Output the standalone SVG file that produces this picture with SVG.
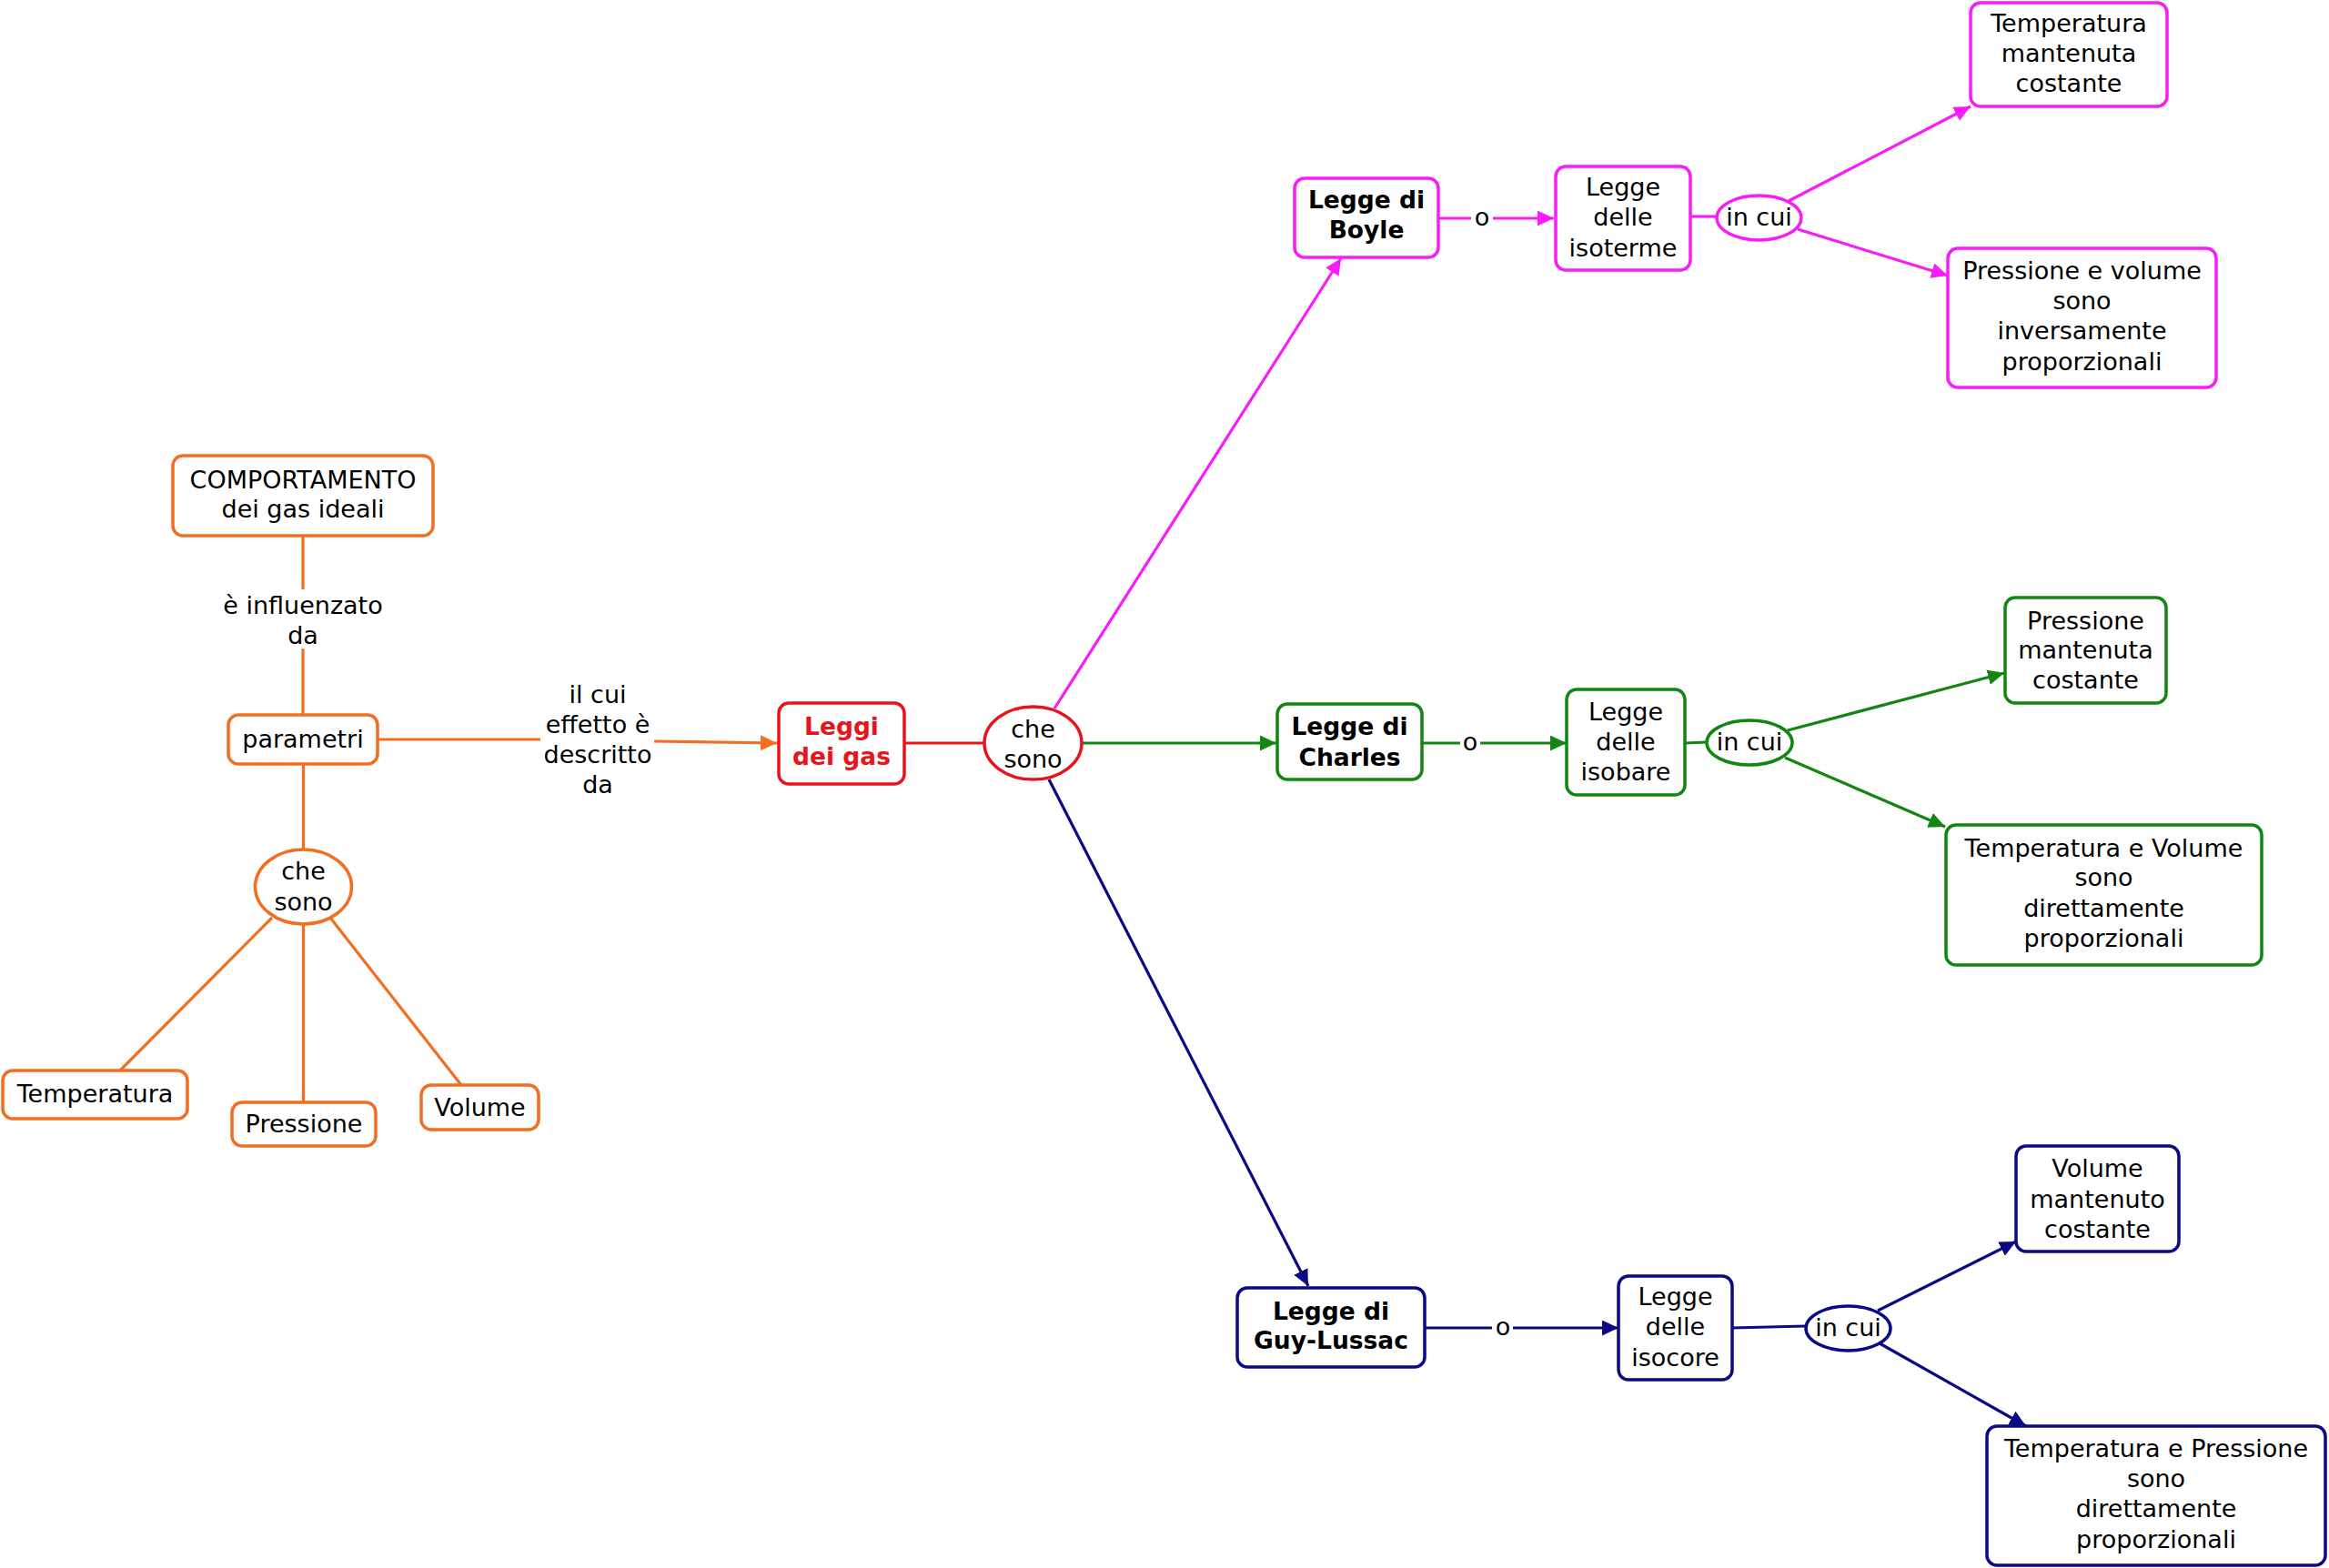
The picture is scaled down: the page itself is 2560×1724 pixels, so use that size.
<svg xmlns="http://www.w3.org/2000/svg" width="2560" height="1724" viewBox="0 0 2560 1724">
<style>
.t{font-family:"DejaVu Sans",Verdana,sans-serif;font-size:27px;fill:#000;text-anchor:middle}
.b{font-family:"DejaVu Sans",Verdana,sans-serif;font-size:26.5px;font-weight:bold;fill:#000;text-anchor:middle}
.n{fill:#fff;stroke-width:3.5}
.c{fill:none;stroke-width:3.2}
.or{stroke:#f26e21}.rd{stroke:#e8141b}.mg{stroke:#f81cf8}.gr{stroke:#128512}.nv{stroke:#0a0a84}
</style>
<defs>
<marker id="aOr" markerUnits="userSpaceOnUse" markerWidth="20" markerHeight="20" refX="18" refY="8.5" orient="auto"><path d="M0,0 L18,8.5 L0,17 z" fill="#f26e21"/></marker>
<marker id="aMg" markerUnits="userSpaceOnUse" markerWidth="20" markerHeight="20" refX="18" refY="8.5" orient="auto"><path d="M0,0 L18,8.5 L0,17 z" fill="#f81cf8"/></marker>
<marker id="aGr" markerUnits="userSpaceOnUse" markerWidth="20" markerHeight="20" refX="18" refY="8.5" orient="auto"><path d="M0,0 L18,8.5 L0,17 z" fill="#128512"/></marker>
<marker id="aNv" markerUnits="userSpaceOnUse" markerWidth="20" markerHeight="20" refX="18" refY="8.5" orient="auto"><path d="M0,0 L18,8.5 L0,17 z" fill="#0a0a84"/></marker>
</defs>
<rect width="2560" height="1724" fill="#fff"/>
<g id="connectors">
<path class="c or" d="M333,589 L333,648"/>
<path class="c or" d="M333,713 L333,786"/>
<path class="c or" d="M415,813 L594,813"/>
<path class="c or" d="M719,815 L854,817" marker-end="url(#aOr)"/>
<path class="c or" d="M333.5,840 L333.5,934"/>
<path class="c or" d="M299,1009 L132,1177"/>
<path class="c or" d="M333.5,1016 L333.5,1212"/>
<path class="c or" d="M363,1009 L507,1193"/>
<path class="c rd" d="M994,817 L1082,817"/>
<path class="c mg" d="M1159,779 L1474,284" marker-end="url(#aMg)"/>
<path class="c mg" d="M1581,240 L1617,240"/>
<path class="c mg" d="M1641,240 L1708,240" marker-end="url(#aMg)"/>
<path class="c mg" d="M1858,238 L1887,238"/>
<path class="c mg" d="M1966,221 L2166,117" marker-end="url(#aMg)"/>
<path class="c mg" d="M1976,252 L2141,303" marker-end="url(#aMg)"/>
<path class="c gr" d="M1189,817 L1403,817" marker-end="url(#aGr)"/>
<path class="c gr" d="M1563,817 L1605,817"/>
<path class="c gr" d="M1627,817 L1722,817" marker-end="url(#aGr)"/>
<path class="c gr" d="M1852,817 L1876,816"/>
<path class="c gr" d="M1965,803 L2203,740" marker-end="url(#aGr)"/>
<path class="c gr" d="M1962,833 L2138,909" marker-end="url(#aGr)"/>
<path class="c nv" d="M1153,857 L1438,1414" marker-end="url(#aNv)"/>
<path class="c nv" d="M1566,1460 L1640,1460"/>
<path class="c nv" d="M1663,1460 L1779,1460" marker-end="url(#aNv)"/>
<path class="c nv" d="M1904,1460 L1985,1458"/>
<path class="c nv" d="M2064,1441 L2216,1365" marker-end="url(#aNv)"/>
<path class="c nv" d="M2066,1477 L2227,1568" marker-end="url(#aNv)"/>
</g>
<g id="labels">
<text class="t"><tspan x="333" y="675">è influenzato</tspan><tspan x="333" y="708">da</tspan></text>
<text class="t"><tspan x="657" y="773">il cui</tspan><tspan x="657" y="806">effetto è</tspan><tspan x="657" y="839">descritto</tspan><tspan x="657" y="872">da</tspan></text>
<text class="t" x="1629" y="248">o</text>
<text class="t" x="1616" y="825">o</text>
<text class="t" x="1652" y="1468">o</text>
</g>
<g id="n-comportamento"><rect class="n or" x="190" y="501" width="286" height="88" rx="11"/><text class="t"><tspan x="333" y="537">COMPORTAMENTO</tspan><tspan x="333" y="569">dei gas ideali</tspan></text></g>
<g id="n-parametri"><rect class="n or" x="251" y="786" width="164" height="54" rx="11"/><text class="t" x="333" y="822">parametri</text></g>
<g id="n-chesono1"><ellipse class="n or" cx="333.5" cy="975" rx="53" ry="41"/><text class="t"><tspan x="333.5" y="967">che</tspan><tspan x="333.5" y="1001">sono</tspan></text></g>
<g id="n-temperatura"><rect class="n or" x="3" y="1177" width="203" height="53" rx="11"/><text class="t" x="104.5" y="1212">Temperatura</text></g>
<g id="n-pressione"><rect class="n or" x="255" y="1212" width="158" height="48" rx="11"/><text class="t" x="334" y="1245">Pressione</text></g>
<g id="n-volume"><rect class="n or" x="463" y="1193" width="129" height="49" rx="11"/><text class="t" x="527.5" y="1227">Volume</text></g>
<g id="n-leggi"><rect class="n rd" x="856" y="773" width="138" height="89" rx="11"/><text class="b" style="fill:#e8141b"><tspan x="925" y="808">Leggi</tspan><tspan x="925" y="841">dei gas</tspan></text></g>
<g id="n-chesono2"><ellipse class="n rd" cx="1135.5" cy="817" rx="53.5" ry="40"/><text class="t"><tspan x="1135.5" y="811">che</tspan><tspan x="1135.5" y="844">sono</tspan></text></g>
<g id="n-boyle"><rect class="n mg" x="1423" y="196" width="158" height="87" rx="11"/><text class="b"><tspan x="1502" y="229">Legge di</tspan><tspan x="1502" y="262">Boyle</tspan></text></g>
<g id="n-isoterme"><rect class="n mg" x="1710" y="183" width="148" height="114" rx="11"/><text class="t"><tspan x="1784" y="215">Legge</tspan><tspan x="1784" y="248">delle</tspan><tspan x="1784" y="282">isoterme</tspan></text></g>
<g id="n-incui1"><ellipse class="n mg" cx="1933.5" cy="239.5" rx="46.5" ry="24.5"/><text class="t" x="1933.5" y="248">in cui</text></g>
<g id="n-tempcost"><rect class="n mg" x="2166" y="3" width="216" height="114" rx="11"/><text class="t"><tspan x="2274" y="35">Temperatura</tspan><tspan x="2274" y="68">mantenuta</tspan><tspan x="2274" y="101">costante</tspan></text></g>
<g id="n-pv"><rect class="n mg" x="2141" y="273" width="295" height="153" rx="11"/><text class="t"><tspan x="2288.5" y="307">Pressione e volume</tspan><tspan x="2288.5" y="340">sono</tspan><tspan x="2288.5" y="373">inversamente</tspan><tspan x="2288.5" y="407">proporzionali</tspan></text></g>
<g id="n-charles"><rect class="n gr" x="1404" y="774" width="159" height="83" rx="11"/><text class="b"><tspan x="1483.5" y="808">Legge di</tspan><tspan x="1483.5" y="842">Charles</tspan></text></g>
<g id="n-isobare"><rect class="n gr" x="1722" y="758" width="130" height="116" rx="11"/><text class="t"><tspan x="1787" y="792">Legge</tspan><tspan x="1787" y="825">delle</tspan><tspan x="1787" y="858">isobare</tspan></text></g>
<g id="n-incui2"><ellipse class="n gr" cx="1923" cy="816.5" rx="47" ry="24.5"/><text class="t" x="1923" y="825">in cui</text></g>
<g id="n-prescost"><rect class="n gr" x="2204" y="657" width="177" height="116" rx="11"/><text class="t"><tspan x="2292.5" y="692">Pressione</tspan><tspan x="2292.5" y="724">mantenuta</tspan><tspan x="2292.5" y="757">costante</tspan></text></g>
<g id="n-tv"><rect class="n gr" x="2139" y="907" width="347" height="154" rx="11"/><text class="t"><tspan x="2312.5" y="942">Temperatura e Volume</tspan><tspan x="2312.5" y="974">sono</tspan><tspan x="2312.5" y="1008">direttamente</tspan><tspan x="2312.5" y="1041">proporzionali</tspan></text></g>
<g id="n-guylussac"><rect class="n nv" x="1360" y="1416" width="206" height="87" rx="11"/><text class="b"><tspan x="1463" y="1451">Legge di</tspan><tspan x="1463" y="1483">Guy-Lussac</tspan></text></g>
<g id="n-isocore"><rect class="n nv" x="1779" y="1403" width="125" height="114" rx="11"/><text class="t"><tspan x="1841.5" y="1435">Legge</tspan><tspan x="1841.5" y="1468">delle</tspan><tspan x="1841.5" y="1502">isocore</tspan></text></g>
<g id="n-incui3"><ellipse class="n nv" cx="2031.5" cy="1460.5" rx="46.5" ry="24.5"/><text class="t" x="2031.5" y="1469">in cui</text></g>
<g id="n-volcost"><rect class="n nv" x="2216" y="1260" width="179" height="116" rx="11"/><text class="t"><tspan x="2305.5" y="1294">Volume</tspan><tspan x="2305.5" y="1328">mantenuto</tspan><tspan x="2305.5" y="1361">costante</tspan></text></g>
<g id="n-tp"><rect class="n nv" x="2184" y="1568" width="372" height="153" rx="11"/><text class="t"><tspan x="2370" y="1602">Temperatura e Pressione</tspan><tspan x="2370" y="1635">sono</tspan><tspan x="2370" y="1668">direttamente</tspan><tspan x="2370" y="1702">proporzionali</tspan></text></g>
</svg>
